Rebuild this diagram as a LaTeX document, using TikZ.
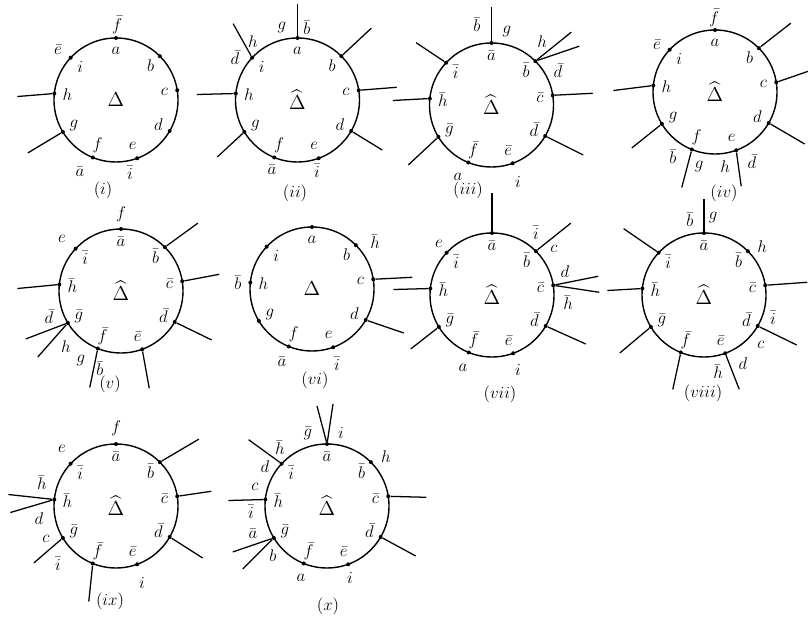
\documentclass[tikz,border=0pt]{standalone}
\usepackage{amsmath,amssymb}
\usepackage{tikz}
\tikzset{
  rim/.style={line width=1pt},
  leg/.style={line width=0.9pt},
  pt/.style={circle, fill=black, inner sep=0pt, minimum size=0.1cm},
  inlab/.style={font=\large, inner sep=0pt},
  outlab/.style={font=\large, inner sep=0pt},
  centre/.style={font=\Large, inner sep=0pt},
  caption/.style={font=\large, inner sep=0pt},
}
% radius of every circle, in picture units
\newcommand{\R}{62}
% #1 prefix of node names, #2 symbol in the middle, #3 \bar or nothing
\newcommand{\rimcircle}[3]{%
  \draw[rim] (0,0) circle (\R);
  \foreach \nm/\ang in {a/90, b/45, c/9, d/-30, e/-70, f/-112, g/-149, h/174, i/137} {
    \node[pt] (#1-\nm) at (\ang:\R) {};
    \node[inlab] (#1-in\nm) at (\ang:49) {$#3{\nm}$};
  }
  \node[centre] (#1-mid) at (0,0) {$#2$};
}

\begin{document}
\begin{tikzpicture}[x=0.025cm, y=0.025cm]
  \useasboundingbox (0,0) rectangle (808,622);

  % (i)
  \begin{scope}[shift={(116,522)}]
    \rimcircle{p1}{\Delta}{}
    \draw[leg] (p1-h) -- ++(-37,-3);
    \draw[leg] (p1-g) -- ++(-35,-21);
    \node[outlab] (p1-o1) at (1,75) {$\bar f$};
    \node[outlab] (p1-o2) at (-58,50) {$\bar e$};
    \node[outlab] (p1-o3) at (-36,-72) {$\bar a$};
    \node[outlab] (p1-o4) at (14,-73) {$\bar i$};
    \node[caption] (p1-cap) at (-13,-90) {$(i)$};
  \end{scope}

  % (ii)
  \begin{scope}[shift={(297.5,522)}]
    \rimcircle{p2}{\widehat{\Delta}}{}
    \draw[leg] (p2-a) -- ++(0,34);
    \draw[leg] (p2-i) -- ++(-19,34);
    \draw[leg] (p2-b) -- ++(30,28);
    \draw[leg] (p2-c) -- ++(38,3);
    \draw[leg] (p2-d) -- ++(31,-19);
    \draw[leg] (p2-h) -- ++(-39,-1);
    \draw[leg] (p2-g) -- ++(-27,-25);
    \node[outlab] (p2-o1) at (-15.5,72) {$g$};
    \node[outlab] (p2-o2) at (9.5,72) {$\bar b$};
    \node[outlab] (p2-o3) at (-44.5,58) {$h$};
    \node[outlab] (p2-o4) at (-62.5,42) {$\bar d$};
    \node[outlab] (p2-o5) at (-25.5,-70) {$\bar a$};
    \node[outlab] (p2-o6) at (19.5,-71) {$\bar i$};
    \node[caption] (p2-cap) at (-2.5,-93) {$(ii)$};
  \end{scope}

  % (iii)
  \begin{scope}[shift={(491.5,517)}]
    \rimcircle{p3}{\widehat{\Delta}}{\bar}
    \draw[leg] (p3-a) -- ++(0,36);
    \draw[leg] (p3-i) -- ++(-30,20);
    \draw[leg] (p3-b) -- ++(36,29);
    \draw[leg] (p3-b) -- ++(44,15);
    \draw[leg] (p3-c) -- ++(40,2);
    \draw[leg] (p3-d) -- ++(38,-19);
    \draw[leg] (p3-h) -- ++(-37,-2);
    \draw[leg] (p3-g) -- ++(-30,-28);
    \node[outlab] (p3-o1) at (-14.5,80) {$\bar b$};
    \node[outlab] (p3-o2) at (15.5,73) {$g$};
    \node[outlab] (p3-o3) at (50.5,63) {$h$};
    \node[outlab] (p3-o4) at (66.5,34) {$\bar d$};
    \node[outlab] (p3-o5) at (-33.5,-72) {$a$};
    \node[outlab] (p3-o6) at (26.5,-77) {$i$};
    \node[caption] (p3-cap) at (-23.5,-85) {$(iii)$};
  \end{scope}

  % (iv)
  \begin{scope}[shift={(715,530)}]
    \rimcircle{p4}{\widehat{\Delta}}{}
    \draw[leg] (p4-b) -- ++(32,25);
    \draw[leg] (p4-c) -- ++(32,11);
    \draw[leg] (p4-d) -- ++(36,-21);
    \draw[leg] (p4-h) -- ++(-40,-5);
    \draw[leg] (p4-g) -- ++(-30,-24);
    \draw[leg] (p4-f) -- ++(-10,-38);
    \draw[leg] (p4-e) -- ++(5,-36);
    \node[outlab] (p4-o1) at (-1,74) {$\bar f$};
    \node[outlab] (p4-o2) at (-58,47) {$\bar e$};
    \node[outlab] (p4-o3) at (-42,-65) {$\bar b$};
    \node[outlab] (p4-o4) at (-16,-75) {$g$};
    \node[outlab] (p4-o5) at (10,-75) {$h$};
    \node[outlab] (p4-o6) at (37,-70) {$\bar d$};
    \node[caption] (p4-cap) at (9,-101) {$(iv)$};
  \end{scope}

  % (v)
  \begin{scope}[shift={(121,331)}]
    \rimcircle{p5}{\widehat{\Delta}}{\bar}
    \draw[leg] (p5-b) -- ++(33,24);
    \draw[leg] (p5-c) -- ++(37,7);
    \draw[leg] (p5-d) -- ++(37,-18);
    \draw[leg] (p5-h) -- ++(-42,-4);
    \draw[leg] (p5-g) -- ++(-42,-16);
    \draw[leg] (p5-g) -- ++(-30,-34);
    \draw[leg] (p5-f) -- ++(-8,-39);
    \draw[leg] (p5-e) -- ++(7,-39);
    \node[outlab] (p5-o1) at (0,77) {$f$};
    \node[outlab] (p5-o2) at (-59,52) {$e$};
    \node[outlab] (p5-o3) at (-72,-26) {$\bar d$};
    \node[outlab] (p5-o4) at (-55,-56) {$h$};
    \node[outlab] (p5-o5) at (-40,-70) {$g$};
    \node[outlab] (p5-o6) at (-21,-78) {$\bar b$};
    \node[caption] (p5-cap) at (-11,-93) {$(v)$};
  \end{scope}

  % (vi)
  \begin{scope}[shift={(312,333)}]
    \rimcircle{p6}{\Delta}{}
    \draw[leg] (p6-c) -- ++(39,2);
    \draw[leg] (p6-d) -- ++(38,-13);
    \node[outlab] (p6-o1) at (63,47) {$\bar h$};
    \node[outlab] (p6-o2) at (-74,6) {$\bar b$};
    \node[outlab] (p6-o3) at (-30,-73) {$\bar a$};
    \node[outlab] (p6-o4) at (25,-75) {$\bar i$};
    \node[caption] (p6-cap) at (3,-91) {$(vi)$};
  \end{scope}

  % (vii)
  \begin{scope}[shift={(492,327)}]
    \rimcircle{p7}{\widehat{\Delta}}{\bar}
    \draw[leg] (p7-a) -- ++(0,40);
    \draw[leg] (p7-b) -- ++(35,28);
    \draw[leg] (p7-c) -- ++(45,9);
    \draw[leg] (p7-c) -- ++(46,-7);
    \draw[leg] (p7-d) -- ++(40,-18);
    \draw[leg] (p7-h) -- ++(-37,-1);
    \draw[leg] (p7-g) -- ++(-28,-22);
    \node[outlab] (p7-o1) at (-53,51) {$e$};
    \node[outlab] (p7-o2) at (44,62) {$\bar i$};
    \node[outlab] (p7-o3) at (62,46) {$c$};
    \node[outlab] (p7-o4) at (73,23) {$d$};
    \node[outlab] (p7-o5) at (76,-8) {$\bar h$};
    \node[outlab] (p7-o6) at (-29,-73) {$a$};
    \node[outlab] (p7-o7) at (26,-75) {$i$};
    \node[caption] (p7-cap) at (8,-99) {$(vii)$};
  \end{scope}

  % (viii)
  \begin{scope}[shift={(704,327)}]
    \rimcircle{p8}{\widehat{\Delta}}{\bar}
    \draw[leg] (p8-a) -- ++(0,34);
    \draw[leg] (p8-i) -- ++(-35,24);
    \draw[leg] (p8-c) -- ++(42,3);
    \draw[leg] (p8-d) -- ++(39,-19);
    \draw[leg] (p8-e) -- ++(14,-36);
    \draw[leg] (p8-f) -- ++(-8,-37);
    \draw[leg] (p8-g) -- ++(-31,-26);
    \draw[leg] (p8-h) -- ++(-35,-2);
    \node[outlab] (p8-o1) at (-14,75) {$\bar b$};
    \node[outlab] (p8-o2) at (9,77) {$g$};
    \node[outlab] (p8-o3) at (58,48) {$h$};
    \node[outlab] (p8-o4) at (69,-23) {$\bar i$};
    \node[outlab] (p8-o5) at (57,-50) {$c$};
    \node[outlab] (p8-o6) at (39,-69) {$d$};
    \node[outlab] (p8-o7) at (14,-77) {$\bar h$};
    \node[caption] (p8-cap) at (-1,-98) {$(viii)$};
  \end{scope}

  % (ix)
  \begin{scope}[shift={(116,116)}]
    \rimcircle{p9}{\widehat{\Delta}}{\bar}
    \draw[leg] (p9-b) -- ++(39,23);
    \draw[leg] (p9-c) -- ++(34,5);
    \draw[leg] (p9-d) -- ++(33,-21);
    \draw[leg] (p9-h) -- ++(-46,5);
    \draw[leg] (p9-h) -- ++(-44,-13);
    \draw[leg] (p9-g) -- ++(-29,-25);
    \draw[leg] (p9-f) -- ++(-4,-38);
    \node[outlab] (p9-o1) at (0,78) {$f$};
    \node[outlab] (p9-o2) at (-54,57) {$e$};
    \node[outlab] (p9-o3) at (-74,23) {$\bar h$};
    \node[outlab] (p9-o4) at (-77,-13) {$d$};
    \node[outlab] (p9-o5) at (-70,-33) {$c$};
    \node[outlab] (p9-o6) at (-58,-58) {$\bar i$};
    \node[outlab] (p9-o7) at (26,-77) {$i$};
    \node[caption] (p9-cap) at (-6,-95) {$(ix)$};
  \end{scope}

  % (x)
  \begin{scope}[shift={(327,116)}]
    \rimcircle{p10}{\widehat{\Delta}}{\bar}
    \draw[leg] (p10-a) -- ++(-10,38);
    \draw[leg] (p10-a) -- ++(6,40);
    \draw[leg] (p10-i) -- ++(-33,24);
    \draw[leg] (p10-c) -- ++(38,-1);
    \draw[leg] (p10-d) -- ++(35,-19);
    \draw[leg] (p10-h) -- ++(-37,-1);
    \draw[leg] (p10-g) -- ++(-41,-14);
    \draw[leg] (p10-g) -- ++(-31,-31);
    \node[outlab] (p10-o1) at (-19,73) {$\bar g$};
    \node[outlab] (p10-o2) at (14,73) {$i$};
    \node[outlab] (p10-o3) at (-47,58) {$\bar h$};
    \node[outlab] (p10-o4) at (-62,39) {$d$};
    \node[outlab] (p10-o5) at (59,49) {$h$};
    \node[outlab] (p10-o6) at (-72,19) {$c$};
    \node[outlab] (p10-o7) at (-76,-6) {$\bar i$};
    \node[outlab] (p10-o8) at (-74,-28) {$\bar a$};
    \node[outlab] (p10-o9) at (-54,-50) {$b$};
    \node[outlab] (p10-o10) at (-26,-72) {$a$};
    \node[outlab] (p10-o11) at (23,-72) {$i$};
    \node[caption] (p10-cap) at (1,-100) {$(x)$};
  \end{scope}
\end{tikzpicture}
\end{document}
